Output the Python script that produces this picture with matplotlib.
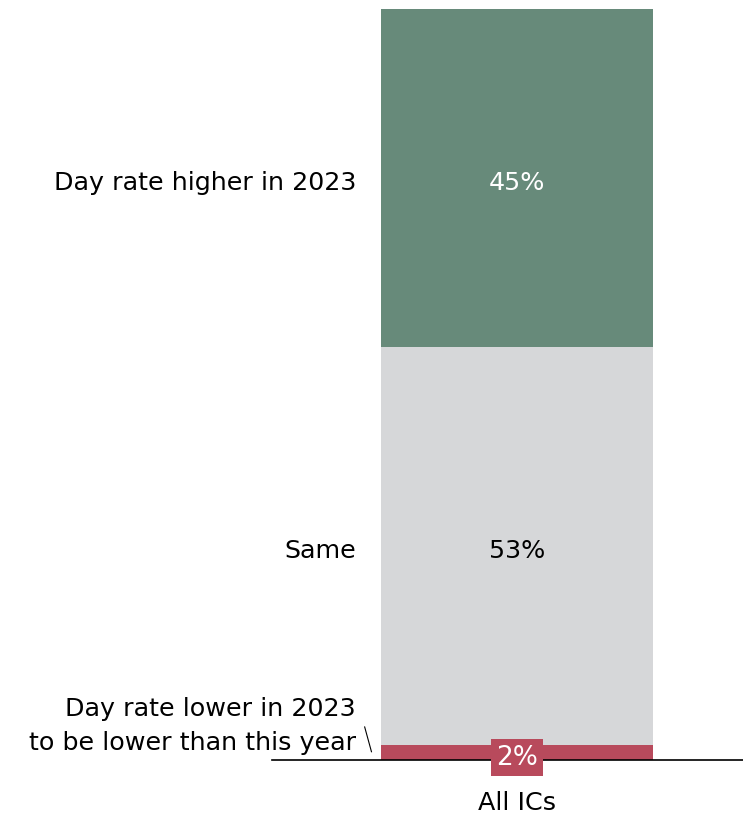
import matplotlib
matplotlib.use("Agg")
import matplotlib.pyplot as plt

categories = ["All ICs"]
segment_labels = ["Day rate lower in 2023\nto be lower than this year", "Same", "Day rate higher in 2023"]
values = [2, 53, 45]
colors = ["#b84a5c", "#d6d7d9", "#678a7a"]
text_colors = ["white", "black", "white"]

plt.rcParams['font.family'] = ['DejaVu Sans']
fs = 18.3

fig = plt.figure(figsize=(7.43, 8.15), dpi=100)
ax = fig.add_axes([272 / 743, 55 / 815, 471 / 743, 751 / 815])

bottom = 0
for i in range(len(values)):
    ax.bar(0, values[i], width=1.0, bottom=bottom, color=colors[i])
    mid = bottom + values[i] / 2
    if i == 0:
        ax.text(0, mid - 0.3, f"{values[i]}%", ha="center", va="center_baseline", fontsize=19,
                color=text_colors[i],
                bbox=dict(boxstyle="square,pad=0.2", fc=colors[i], ec="none"))
        # label above with a leader line
        ax.text(-0.592, 5.5, segment_labels[i], ha="right", va="center_baseline", fontsize=fs,
                linespacing=1.5, clip_on=False)
        ax.plot([-0.56, -0.535], [4.4, 1.1], color="black", lw=0.8, clip_on=False)
    else:
        ax.text(0, mid - 0.3, f"{values[i]}%", ha="center", va="center_baseline", fontsize=fs,
                color=text_colors[i])
        ax.text(-0.592, mid - 0.3, segment_labels[i], ha="right", va="center_baseline", fontsize=fs,
                clip_on=False)
    bottom += values[i]

ax.set_xlim(-0.9007, 0.831)
ax.set_ylim(0, 100)
ax.axhline(0, color="black", lw=1.2, clip_on=False)
ax.set_xticks([0])
ax.set_xticklabels(categories, fontsize=fs)
ax.tick_params(axis="x", length=0, pad=22)
ax.set_yticks([])
for s in ax.spines.values():
    s.set_visible(False)

fig.savefig("out.png", dpi=100)
